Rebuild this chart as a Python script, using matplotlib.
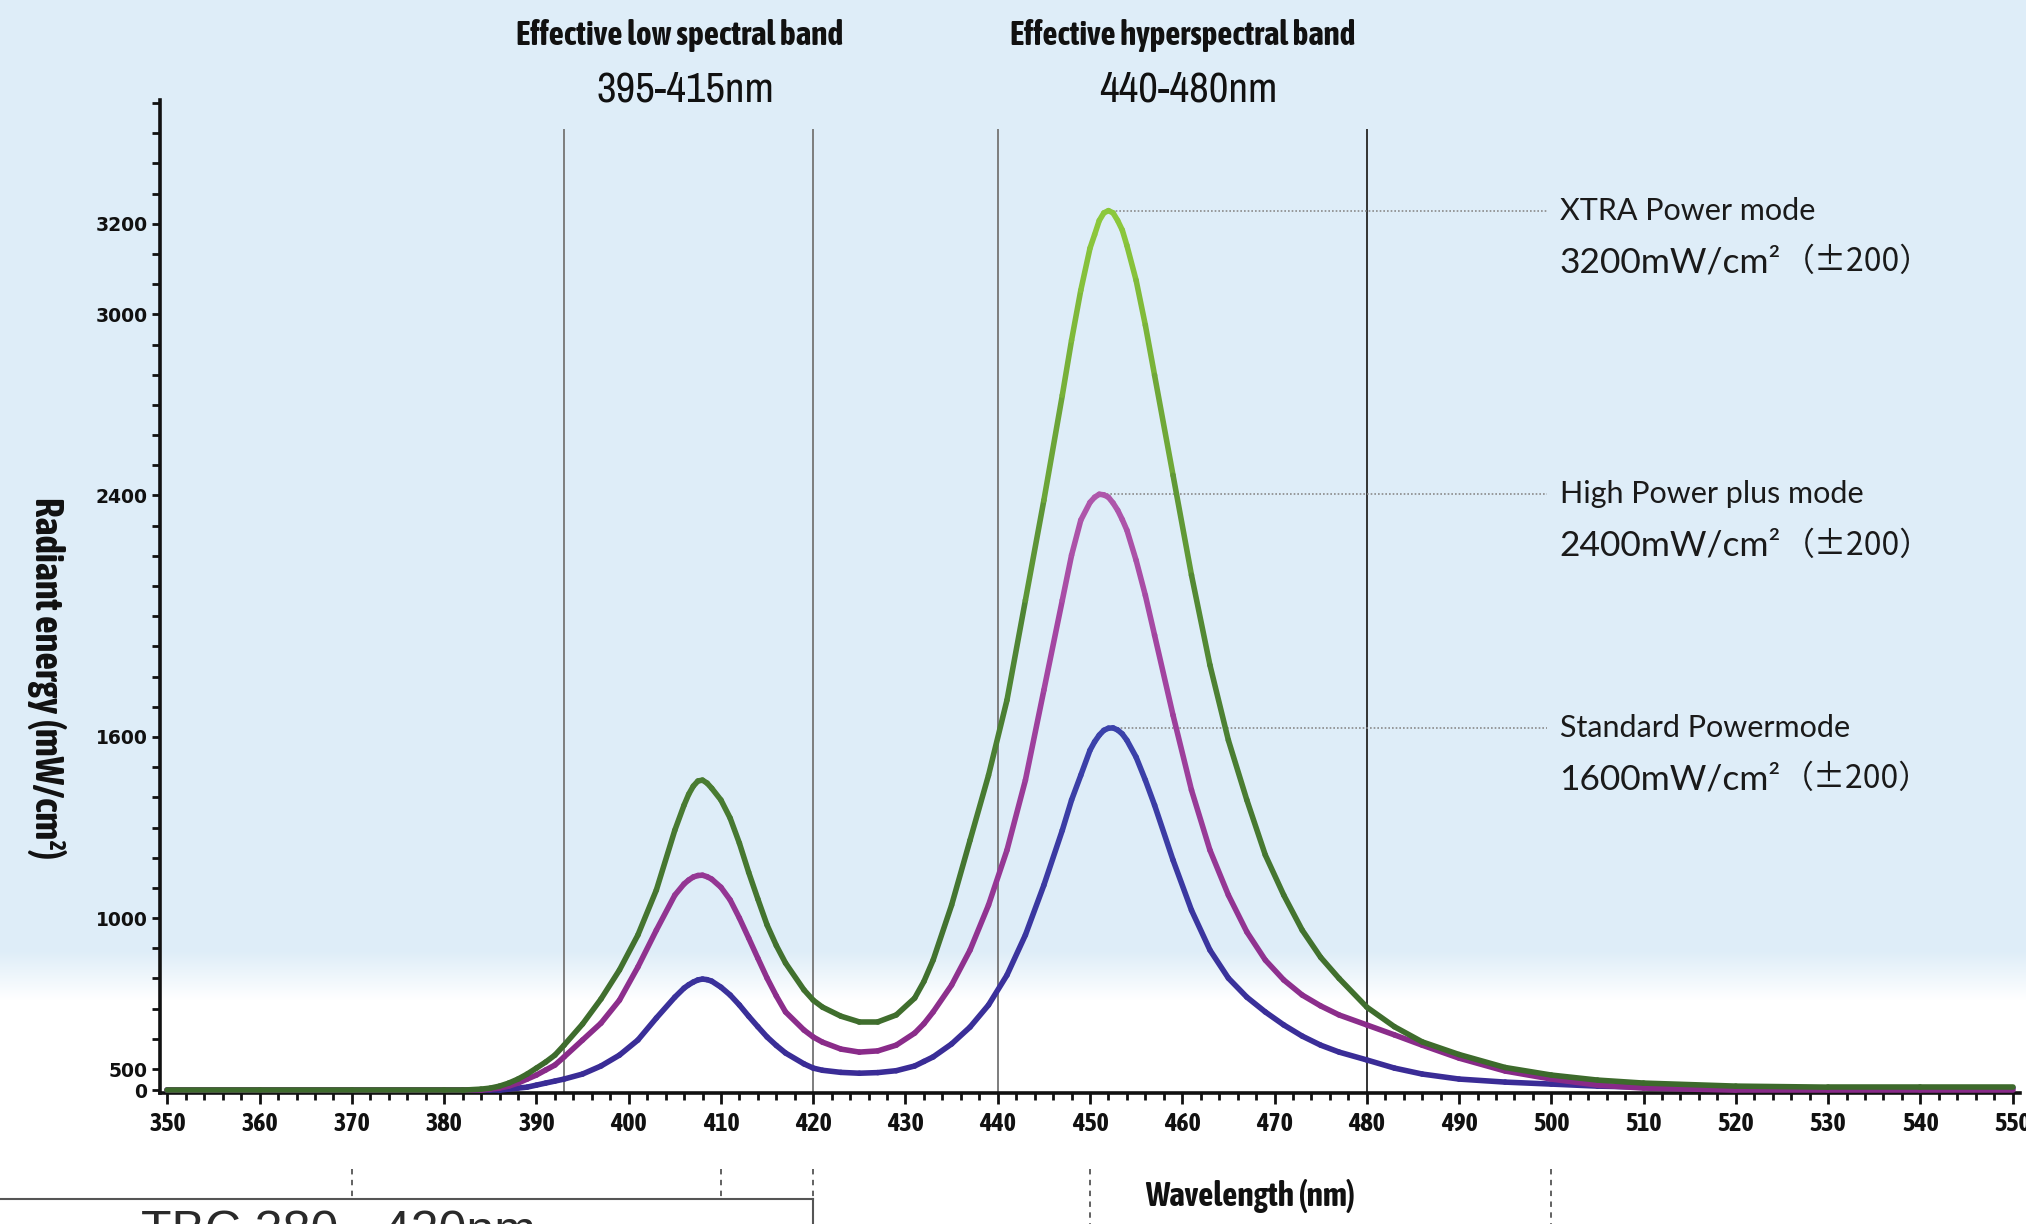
import numpy as np
import matplotlib
matplotlib.use("Agg")
import matplotlib.pyplot as plt
from matplotlib import font_manager
from matplotlib.font_manager import FontProperties
from matplotlib.collections import LineCollection
from matplotlib.colors import LinearSegmentedColormap, Normalize, to_rgb
from matplotlib.transforms import blended_transform_factory
from matplotlib.ticker import FixedLocator, MultipleLocator

# ---- data ----
wavelength = [350, 360, 370, 380, 382, 384, 385, 386, 387, 388, 389, 390, 391, 392, 393,
              395, 397, 399, 401, 403, 405, 406, 406.5, 407, 407.5, 408, 408.5, 409, 410,
              411, 412, 413, 414, 415, 416, 417, 419, 420, 421, 423, 425, 427, 429, 431,
              432, 433, 435, 437, 439, 441, 443, 445, 447, 448, 449, 450, 450.5, 451,
              451.5, 452, 452.5, 453, 453.5, 454, 455, 456, 457, 459, 461, 463, 465,
              467, 469, 471, 473, 475, 477, 480, 483, 486, 490, 495, 500, 505, 510,
              520, 530, 540, 550]

xtra_power = [0, 0, 0, 0, 0, 24, 48, 95, 167, 262, 381, 503, 523, 546, 579,
              649, 732, 828, 944, 1093, 1291, 1374, 1410, 1437, 1454, 1457, 1447, 1430, 1391,
              1331, 1248, 1152, 1063, 977, 909, 851, 762, 728, 705, 675, 656, 656, 679, 735,
              790, 861, 1043, 1258, 1473, 1722, 2053, 2384, 2732, 2914, 3053, 3146, 3176, 3207,
              3224, 3229, 3224, 3207, 3186, 3152, 3075, 2964, 2798, 2467, 2136, 1838, 1589,
              1391, 1209, 1076, 960, 870, 800, 705, 640, 590, 548, 505, 357, 238, 167,
              95, 71, 71, 71]

high_power_plus = [0, 0, 0, 0, 0, 0, 24, 48, 95, 167, 262, 357, 476, 513, 540,
                   596, 652, 728, 838, 960, 1076, 1113, 1126, 1136, 1141, 1142, 1137, 1129, 1102,
                   1060, 1000, 934, 867, 801, 742, 689, 629, 606, 589, 566, 556, 560, 579, 619,
                   650, 689, 778, 894, 1043, 1225, 1457, 1755, 2053, 2202, 2318, 2377, 2394, 2404,
                   2402, 2394, 2375, 2351, 2320, 2285, 2185, 2069, 1937, 1672, 1424, 1225, 1076,
                   954, 861, 795, 745, 709, 679, 646, 613, 579, 536, 452, 262, 119, 48,
                   0, 0, 0, 0]

standard_power = [0, 0, 0, 0, 0, 0, 0, 0, 24, 48, 71, 119, 167, 214, 262,
                  381, 510, 546, 596, 669, 738, 768, 779, 788, 795, 798, 796, 791, 771,
                  745, 712, 675, 640, 606, 578, 553, 517, 503, 470, 420, 400, 415, 460, 510,
                  525, 540, 583, 639, 712, 811, 944, 1109, 1291, 1391, 1473, 1556, 1584, 1606,
                  1622, 1629, 1630, 1623, 1610, 1589, 1533, 1457, 1374, 1192, 1026, 894, 801,
                  738, 689, 646, 609, 579, 556, 530, 503, 381, 262, 190, 143, 95, 71,
                  48, 48, 48, 48]

mode_names = ["XTRA Power mode", "High Power plus mode", "Standard Powermode"]
mode_power = ["3200mW/cm²", "2400mW/cm²", "1600mW/cm²"]
mode_tolerance = "（±200）"

band_titles = ["Effective low spectral band", "Effective hyperspectral band"]
band_ranges = ["395-415nm", "440-480nm"]
band_edges = [393, 420, 440, 480]

y_tick_values = [0, 500, 1000, 1600, 2400, 3000, 3200]

# the printed y axis is not linear: label positions measured in minor-tick steps
scale_vals = [-150, 0, 500, 1000, 1600, 2400, 3000, 3200, 3500]
scale_pos = [-0.91, -0.7, 0, 5, 11, 19, 25, 28, 32.5]


def forward(v):
    return np.interp(v, scale_vals, scale_pos)


def inverse(p):
    return np.interp(p, scale_pos, scale_vals)


def as_num(val, table, default):
    if isinstance(val, (int, float)):
        return val
    return table.get(val, default)


def condensed_font(bold):
    # look for a narrow / condensed face, otherwise use Liberation Sans
    best, best_score = None, None
    for f in font_manager.fontManager.ttflist:
        st = as_num(f.stretch, font_manager.stretch_dict, 500)
        narrow = ("Narrow" in f.name or "Condensed" in f.name or st <= 400)
        if not narrow or f.style != "normal":
            continue
        w = as_num(f.weight, font_manager.weight_dict, 400)
        score = abs(w - (700 if bold else 400)) + abs(st - 300) * 0.5
        if "DejaVu" in f.name:
            score += 80
        if best_score is None or score < best_score:
            best, best_score = f, score
    if best is not None:
        return FontProperties(fname=best.fname)
    return FontProperties(family="Liberation Sans", weight="bold" if bold else "normal")


NARROW_B = condensed_font(True)
NARROW_R = condensed_font(False)
LATO = ["Lato", "Noto Sans CJK SC", "DejaVu Sans"]
CJK = ["Noto Sans CJK SC", "DejaVu Sans"]

W, H = 2026, 1224
fig = plt.figure(figsize=(W / 100, H / 100), dpi=100)
renderer = fig.canvas.get_renderer()


def fit(t, target, use_height=False):
    bb = t.get_window_extent(renderer)
    cur = bb.height if use_height else bb.width
    t.set_fontsize(t.get_fontsize() * target / cur)


# background: light blue fading to white near the bottom
bg = fig.add_axes([0, 0, 1, 1], zorder=-10)
bg.axis("off")
rows = np.arange(H)
t = np.clip((rows - 950) / 50.0, 0, 1)[:, None]
top = np.array(to_rgb("#deedf8"))
img = top * (1 - t) + np.ones(3) * t
bg.imshow(img[:, None, :], aspect="auto", extent=[0, 1, 0, 1])
bg.set_xlim(0, 1)
bg.set_ylim(0, 1)

ax = fig.add_axes([160 / W, 1 - 1093 / H, 1860 / W, 993 / H])
ax.patch.set_alpha(0)
ax.set_yscale("function", functions=(forward, inverse))
ax.set_xlim(349.2, 550.8)
ax.set_ylim(inverse(-0.795), inverse(32.1))

# band edges
for i, x in enumerate(band_edges):
    ax.axvline(x, ymin=0, ymax=0.97, color="#333333" if i == 3 else "#7d7d7d", lw=1.4, zorder=1)


def gradient_line(x, y, colors, lw=4.0, z=3):
    x = np.asarray(x, float)
    y = np.asarray(y, float)
    pts = np.column_stack([x, y])
    segs = np.stack([pts[:-1], pts[1:]], axis=1)
    cmap = LinearSegmentedColormap.from_list("c", colors)
    lc = LineCollection(segs, cmap=cmap, norm=Normalize(0, 28), linewidths=lw,
                        capstyle="round", joinstyle="round", zorder=z)
    lc.set_array(forward((y[:-1] + y[1:]) / 2))
    ax.add_collection(lc)


gradient_line(wavelength, standard_power, ["#3a2c96", "#3b48b0", "#3a7ccb"], z=3)
gradient_line(wavelength, high_power_plus, ["#882a88", "#a446a2", "#c277bb"], z=4)
gradient_line(wavelength, xtra_power, ["#3d6a2c", "#4f8534", "#8cc83c"], z=5)

# leader lines + mode labels
for series, name, power in zip([xtra_power, high_power_plus, standard_power], mode_names, mode_power):
    k = int(np.argmax(series))
    peak_x, peak_y = wavelength[k], series[k]
    ax.plot([peak_x + 0.4, 499.5], [peak_y, peak_y], ls=(0, (1, 1.2)), color="#8a8a8a", lw=1.2, zorder=2)
    ax.text(500.9, peak_y, name, va="center", ha="left", fontsize=22, family=LATO, color="#1a1a1a")
    t2 = ax.annotate(power, xy=(500.9, peak_y), xytext=(0, -37), textcoords="offset points",
                     va="center", ha="left", fontsize=25.5, family=LATO, color="#1a1a1a")
    bb = t2.get_window_extent(renderer)
    ax.annotate(mode_tolerance, xy=(500.9, peak_y), xytext=(bb.width * 0.72 + 1, -37),
                textcoords="offset points", va="center", ha="left", fontsize=23,
                family=CJK, color="#1a1a1a")

# axes styling
for s in ["top", "right"]:
    ax.spines[s].set_visible(False)
for s in ["left", "bottom"]:
    ax.spines[s].set_linewidth(2.6)
    ax.spines[s].set_color("#111111")

ax.set_xticks(range(350, 551, 10))
ax.xaxis.set_minor_locator(MultipleLocator(2))
ax.tick_params(axis="x", which="major", direction="out", length=8, width=2, pad=5, colors="#111111")
ax.tick_params(axis="x", which="minor", direction="out", length=5, width=2, colors="#111111")
probe = fig.text(0, 0, "500", fontproperties=NARROW_B)
probe.set_fontsize(18)
bb = probe.get_window_extent(renderer)
xsize = 18 * 37 / bb.width
probe.remove()
for lab in ax.get_xticklabels():
    lab.set_fontproperties(NARROW_B)
    lab.set_fontsize(xsize)

ax.yaxis.set_major_locator(FixedLocator(y_tick_values))
ax.yaxis.set_minor_locator(FixedLocator(inverse(np.arange(0, 33))))
ax.set_yticklabels([str(v) for v in y_tick_values])
ax.tick_params(axis="y", which="both", direction="out", length=6, width=2, pad=3, colors="#111111")
for lab in ax.get_yticklabels():
    lab.set_fontfamily("DejaVu Sans")
    lab.set_fontweight("bold")
    lab.set_fontsize(13.5)

# titles over the bands
for cx, title, rng, tw in zip([680, 1183], band_titles, band_ranges, [326, 344]):
    tt = fig.text(cx / W, 1 - 35 / H, title, ha="center", va="center",
                  fontproperties=NARROW_B, color="#111111")
    tt.set_fontsize(20)
    fit(tt, tw)
    tr_ = fig.text((cx + 5) / W, 1 - 90 / H, rng, ha="center", va="center",
                   fontproperties=NARROW_R, color="#111111")
    tr_.set_fontsize(29)
    fit(tr_, 177)

yl = fig.text(46 / W, 1 - 678 / H, "Radiant energy (mW/cm²)", rotation=-90, ha="center", va="center",
              fontproperties=NARROW_B, color="#111111")
yl.set_fontsize(22)
fit(yl, 362, use_height=True)
xl = fig.text(1250 / W, 1 - 1196 / H, "Wavelength (nm)", ha="center", va="center",
              fontproperties=NARROW_B, color="#111111")
xl.set_fontsize(22)
fit(xl, 210)

# cropped table remnants below the axis
tr = blended_transform_factory(ax.transData, fig.transFigure)
for x in [370, 410, 420]:
    ax.plot([x, x], [1 - 1169 / H, 1 - 1199 / H], transform=tr, clip_on=False,
            color="#555555", lw=1.3, ls=(0, (3, 3)))
for x in [450, 500]:
    ax.plot([x, x], [1 - 1169 / H, 0], transform=tr, clip_on=False,
            color="#555555", lw=1.3, ls=(0, (3, 3)))
ax.plot([330, 420], [1 - 1199 / H, 1 - 1199 / H], transform=tr, clip_on=False, color="#555555", lw=1.5)
ax.plot([420, 420], [1 - 1199 / H, 0], transform=tr, clip_on=False, color="#555555", lw=1.5)
fig.text(141 / W, 1 - 1210 / H, "TBC 380 - 420nm", ha="left", va="top", fontsize=36,
         family="Liberation Sans", color="#2a2a2a")

fig.savefig("out.png", dpi=100)
